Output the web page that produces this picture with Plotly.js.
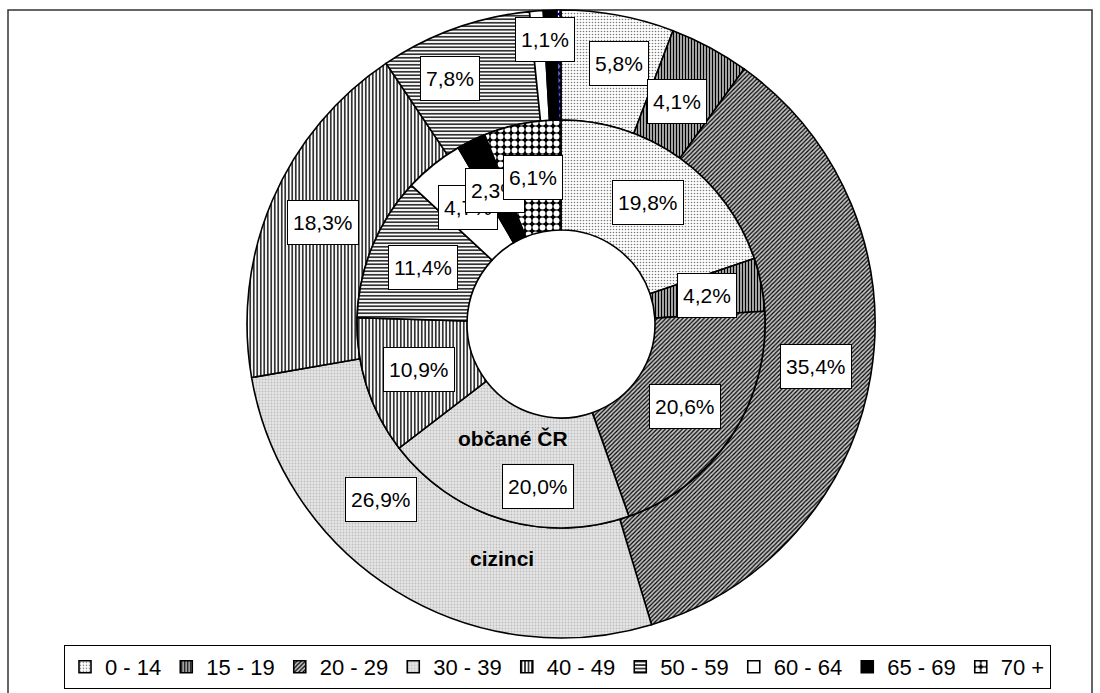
<!DOCTYPE html>
<html><head><meta charset="utf-8">
<script src="https://cdn.plot.ly/plotly-3.0.1.min.js"></script>
<style>html,body{margin:0;padding:0;background:#fff}#chart{width:1100px;height:693px}</style>
</head><body><div id="chart"></div>
<script>
// ---- data ----
const ageGroups = ["0 - 14","15 - 19","20 - 29","30 - 39","40 - 49","50 - 59","60 - 64","65 - 69","70 +"];
const citizensCR = [19.8, 4.2, 20.6, 20.0, 10.9, 11.4, 4.7, 2.3, 6.1];
const foreigners = [5.8, 4.1, 35.4, 26.9, 18.3, 7.8, 0.7, 0.7, 0.2];
const citizensLabels = ["19,8%","4,2%","20,6%","20,0%","10,9%","11,4%","4,7%","2,3%","6,1%"];
const foreignersLabels = ["5,8%","4,1%","35,4%","26,9%","18,3%","7,8%","1,1%","",""];
const seriesNames = ["občané ČR","cizinci"];

// ---- styling / layout ----
const W = 1100, H = 693;
const cx = 561, cy = 324, R_OUT = 314, R_MID = 204, R_HOLE = 94;
const FONT = "Liberation Sans, Arial, sans-serif";

const patShape = [".", "|", "/", ".", "|", "-", "", "", "."];
const patFg    = ["#7a7a7a", "#000000", "#000000", "#bdbdbd", "#000000", "#000000", "#ffffff", "#000000", "#ffffff"];
const patBgIn  = ["#ffffff", "#b4b4b4", "#c4c4c4", "#e6e6e6", "#ffffff", "#ffffff", "#ffffff", "#000000", "#000000"];
const patBgOut = ["#ffffff", "#b4b4b4", "#c4c4c4", "#e6e6e6", "#ffffff", "#ffffff", "#ffffff", "#000000", "#000080"];
const patSize  = [3, 3, 3, 3, 3.5, 3.5, 8, 8, 7];
const patSolid = [0.22, 0.4, 0.4, 0.3, 0.4, 0.4, 0.3, 0.3, 0.55];

// label nudges (px) for hand-placed labels in the original
const nudgeOut = {0:[11,-6], 1:[-7,6], 3:[-44,-45], 5:[-23,-2], 6:[4,-26]};
const nudgeIn = {3:[19,20]};

function dom(r){ return {x:[(cx-r)/W,(cx+r)/W], y:[1-(cy+r)/H, 1-(cy-r)/H]}; }

function pieTrace(values, bg, rO, rI, name, showlegend){
  return {
    type:'pie', values: values, labels: ageGroups, name: name,
    sort:false, direction:'clockwise', rotation:0,
    hole: rI/rO, domain: dom(rO),
    textinfo:'none', hoverinfo:'none', showlegend: showlegend,
    marker:{ colors: bg, line:{color:'#000', width:1.6},
      pattern:{shape: patShape, fgcolor: patFg, bgcolor: bg, size: patSize, solidity: patSolid} }
  };
}

function ringAnn(values, labels, rI, rO, nudge){
  const total = values.reduce((a,b)=>a+b,0);
  const rm = (rI+rO)/2; let cum = 0; const out = [];
  values.forEach((v,i)=>{
    const mid = (cum + v/2)/total*2*Math.PI; cum += v;
    if(!labels[i]) return;
    const d = nudge[i] || [0,0];
    const x = cx + rm*Math.sin(mid) + d[0], y = cy - rm*Math.cos(mid) + d[1];
    out.push({xref:'paper', yref:'paper', x:x/W, y:1-y/H, text:labels[i], showarrow:false,
      xanchor:'center', yanchor:'middle',
      bgcolor:'#ffffff', bordercolor:'#000000', borderwidth:1, borderpad:5, height:33,
      font:{family:FONT, size:21, color:'#000'}});
  });
  return out;
}

const annotations = [].concat(
  ringAnn(foreigners, foreignersLabels, R_MID, R_OUT, nudgeOut),
  ringAnn(citizensCR, citizensLabels, R_HOLE, R_MID, nudgeIn),
  [
    {xref:'paper', yref:'paper', x:513/W, y:1-438/H, text:'<b>'+seriesNames[0]+'</b>', showarrow:false,
     font:{family:FONT, size:21, color:'#000'}},
    {xref:'paper', yref:'paper', x:502/W, y:1-572/H, text:'<b>'+seriesNames[1]+'</b>', showarrow:false,
     font:{family:FONT, size:21, color:'#000'}}
  ]
);

const data = [
  pieTrace(foreigners, patBgOut, R_OUT, R_MID, seriesNames[1], false),
  pieTrace(citizensCR, patBgIn, R_MID, R_HOLE, seriesNames[0], true)
];

const layout = {
  width: W, height: H, margin:{l:0, r:0, t:0, b:0},
  paper_bgcolor:'#fff', plot_bgcolor:'#fff',
  font:{family:FONT, color:'#000'},
  showlegend:true,
  legend:{orientation:'h', x:64/W, xanchor:'left', y:1-667/H, yanchor:'middle',
    bgcolor:'#fff', bordercolor:'#000', borderwidth:1,
    font:{family:FONT, size:22, color:'#000'}, traceorder:'normal'},
  annotations: annotations,
  shapes:[{type:'rect', xref:'paper', yref:'paper', x0:8/W, x1:1092/W, y0:-0.05, y1:1-10/H,
    line:{color:'#333', width:1.5}, fillcolor:'rgba(0,0,0,0)', layer:'below'}]
};

Plotly.newPlot('chart', data, layout, {staticPlot:true, displayModeBar:false});
</script>
</body></html>
